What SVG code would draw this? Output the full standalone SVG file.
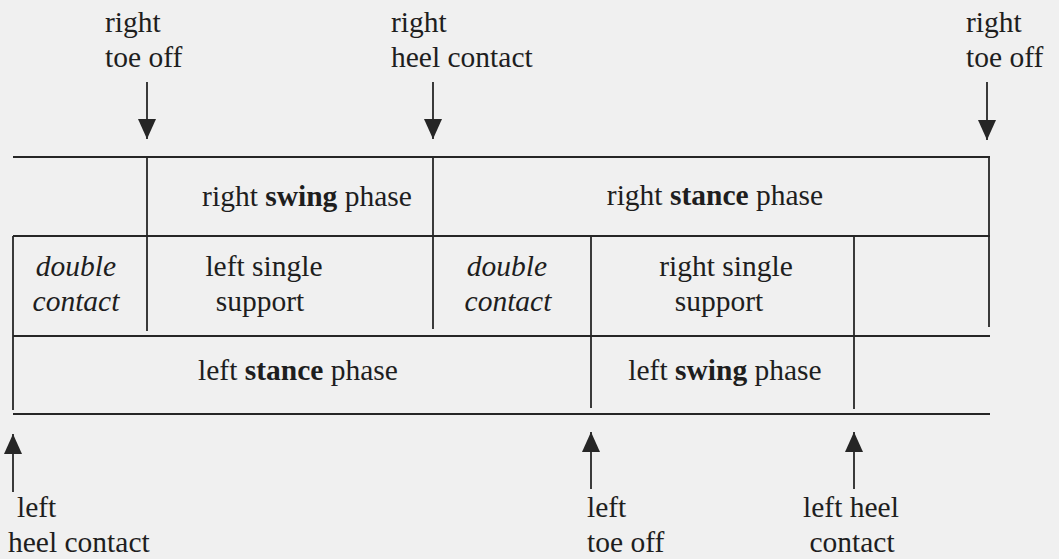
<svg xmlns="http://www.w3.org/2000/svg" width="1059" height="559" viewBox="0 0 1059 559">
  <style>
    text { font-family: "Liberation Serif", "Times New Roman", serif; font-size: 29.5px; fill: #1e1e1e; }
    .b { font-weight: bold; }
    .i { font-style: italic; }
    .m { text-anchor: middle; }
    .grid line { stroke: #262626; stroke-width: 1.8; }
    .arrow { stroke: #262626; stroke-width: 1.8; fill: none; marker-end: url(#head); }
  </style>
  <defs>
    <marker id="head" markerUnits="userSpaceOnUse" markerWidth="20" markerHeight="20" refX="20" refY="9" orient="auto" viewBox="0 0 20 18">
      <path d="M0,0 L20,9 L0,18 z" fill="#262626"/>
    </marker>
  </defs>
  <rect width="1059" height="559" fill="#f0f0f0"/>

  <g id="grid" class="grid">
    <line x1="13" y1="157" x2="990" y2="157"/>
    <line x1="13" y1="236" x2="990" y2="236"/>
    <line x1="13" y1="336" x2="990" y2="336"/>
    <line x1="13" y1="414" x2="990" y2="414"/>
    <line x1="13" y1="236" x2="13" y2="410"/>
    <line x1="147" y1="157" x2="147" y2="331"/>
    <line x1="433" y1="157" x2="433" y2="329"/>
    <line x1="591" y1="236" x2="591" y2="408"/>
    <line x1="854" y1="236" x2="854" y2="409"/>
    <line x1="989" y1="157" x2="989" y2="327"/>
  </g>

  <g id="connectors">
    <line class="arrow" x1="147" y1="82" x2="147" y2="139"/>
    <line class="arrow" x1="433" y1="82" x2="433" y2="139"/>
    <line class="arrow" x1="987" y1="82" x2="987" y2="140"/>
    <line class="arrow" x1="13" y1="492" x2="13" y2="434"/>
    <line class="arrow" x1="591" y1="489" x2="591" y2="432"/>
    <line class="arrow" x1="854" y1="489" x2="854" y2="432"/>
  </g>

  <g id="label-right-toe-off-1">
    <text x="105" y="31.5">right</text>
    <text x="105" y="66.5">toe off</text>
  </g>
  <g id="label-right-heel-contact">
    <text x="391" y="31.5">right</text>
    <text x="391" y="66.5">heel contact</text>
  </g>
  <g id="label-right-toe-off-2">
    <text x="966" y="31.5">right</text>
    <text x="966" y="66.5">toe off</text>
  </g>

  <g id="cell-right-swing">
    <text class="m" x="307" y="205.5">right <tspan class="b">swing</tspan> phase</text>
  </g>
  <g id="cell-right-stance">
    <text class="m" x="715" y="204.5">right <tspan class="b">stance</tspan> phase</text>
  </g>
  <g id="cell-double-contact-1">
    <text class="m i" x="76" y="275.5">double</text>
    <text class="m i" x="76" y="310.5">contact</text>
  </g>
  <g id="cell-left-single-support">
    <text class="m" x="264" y="275.5">left single</text>
    <text class="m" x="260" y="311">support</text>
  </g>
  <g id="cell-double-contact-2">
    <text class="m i" x="507" y="275.5">double</text>
    <text class="m i" x="508" y="310.5">contact</text>
  </g>
  <g id="cell-right-single-support">
    <text class="m" x="726" y="275.5">right single</text>
    <text class="m" x="719" y="311">support</text>
  </g>
  <g id="cell-left-stance">
    <text class="m" x="298" y="379.5">left <tspan class="b">stance</tspan> phase</text>
  </g>
  <g id="cell-left-swing">
    <text class="m" x="725" y="379.5">left <tspan class="b">swing</tspan> phase</text>
  </g>

  <g id="label-left-heel-contact-1">
    <text x="17" y="517">left</text>
    <text x="8" y="552">heel contact</text>
  </g>
  <g id="label-left-toe-off">
    <text x="587" y="517">left</text>
    <text x="587" y="552">toe off</text>
  </g>
  <g id="label-left-heel-contact-2">
    <text class="m" x="851" y="517">left heel</text>
    <text class="m" x="852" y="552">contact</text>
  </g>
</svg>
